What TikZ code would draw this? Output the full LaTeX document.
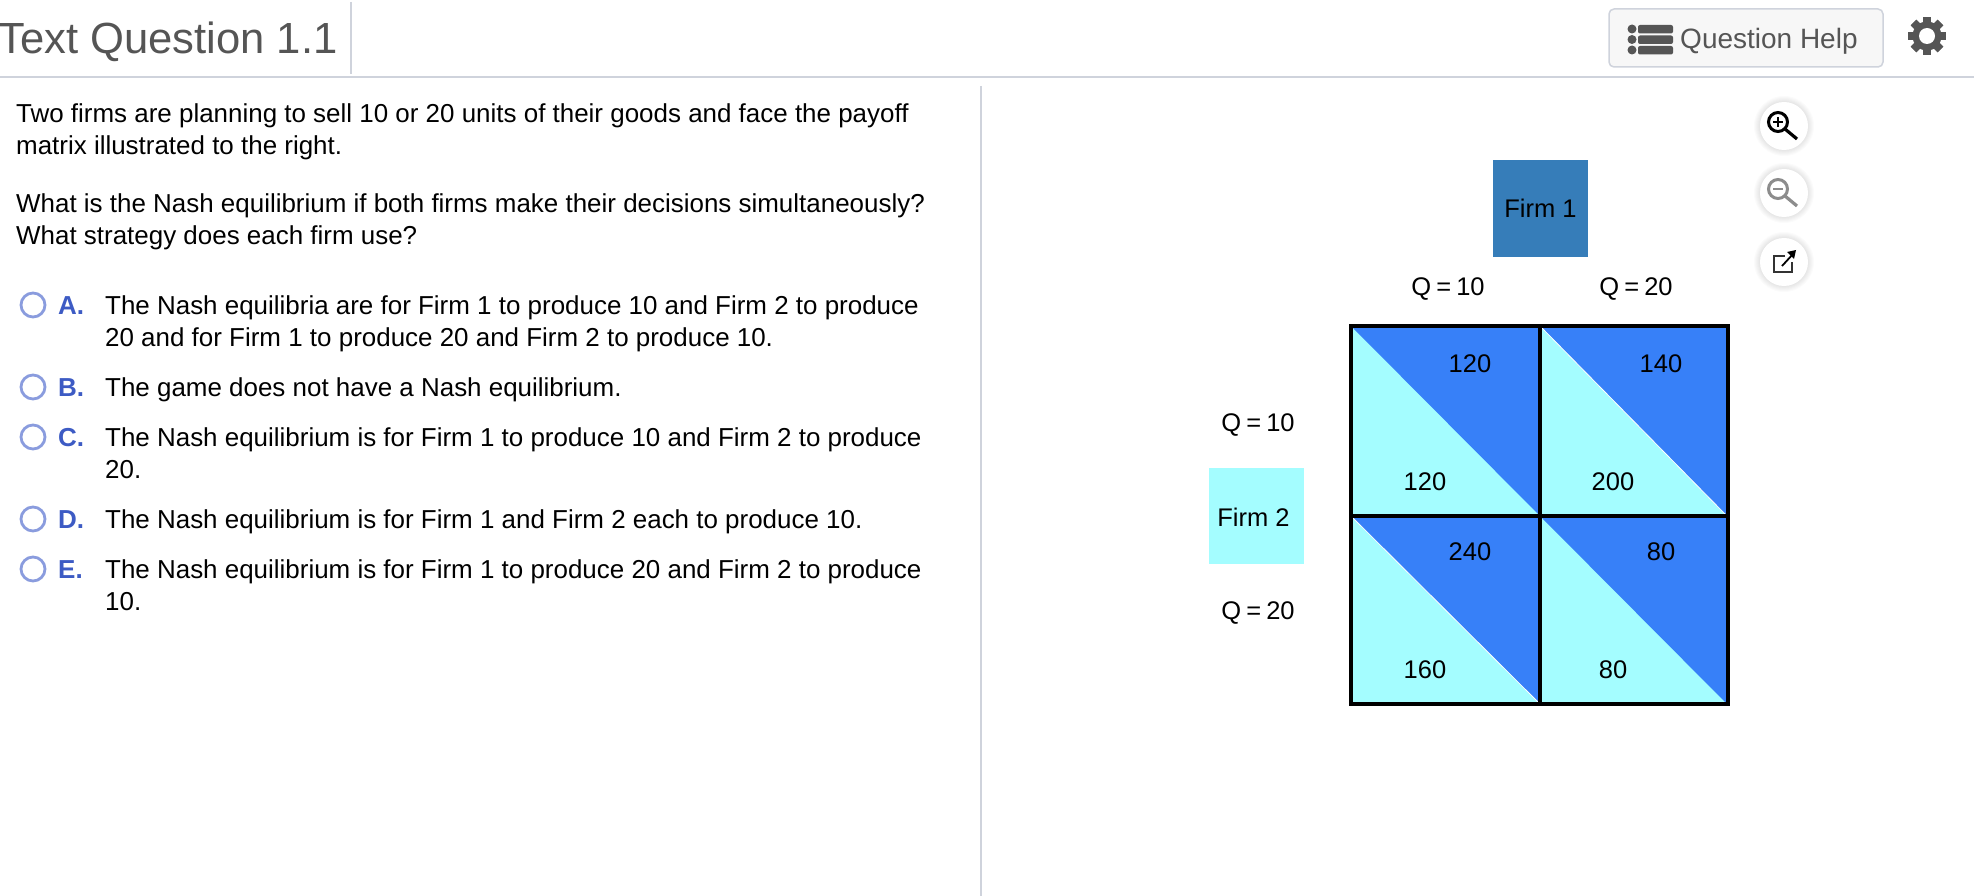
\documentclass[tikz,border=0pt]{standalone}
\usepackage{fontspec}
\setmainfont{Liberation Sans}
\usepackage{xcolor}
\definecolor{firmdark}{HTML}{3780F8}
\definecolor{firmlight}{HTML}{A4FDFF}
\definecolor{firmbox}{HTML}{367DB9}
\definecolor{rulegray}{HTML}{CFD3DC}
\definecolor{headgray}{HTML}{555555}
\definecolor{choiceblue}{HTML}{3D5BC4}
\definecolor{radioblue}{HTML}{8A9CDE}
\tikzset{
  line/.style={anchor=base west, inner sep=0pt, font=\fontsize{25.95}{30}\selectfont},
  letter/.style={anchor=base west, inner sep=0pt, text=choiceblue, font=\fontsize{26}{30}\selectfont\bfseries},
  radio/.style={draw=radioblue, line width=2.8pt, fill=white},
  label/.style={inner sep=0pt, font=\fontsize{25.5}{30}\selectfont},
  iconbtn/.style={fill=white},
}
\newcommand{\qval}[1]{Q\hspace{0.2em}=\hspace{0.2em}#1}
\begin{document}
\begin{tikzpicture}[x=1pt,y=-1pt]
\useasboundingbox (0,0) rectangle (1974,896);
\fill[white] (0,0) rectangle (1974,896);

% header
\node[anchor=base west, inner sep=0pt, text=headgray, font=\fontsize{43.6}{50}\selectfont] (title) at (-2,54) {Text Question 1.1};
\draw[rulegray, line width=1.5pt] (351,2)--(351,74);
\draw[rulegray, line width=1.5pt] (0,77)--(1974,77);
\draw[rulegray, line width=1.5pt] (981,86)--(981,896);

\draw[rulegray, line width=1.5pt, fill=black!3, rounded corners=5pt] (1609,9) rectangle (1883,67);
\fill[headgray] (1632,29) circle (4.5);
\fill[headgray] (1632,39.5) circle (4.5);
\fill[headgray] (1632,50) circle (4.5);
\fill[headgray, rounded corners=2pt] (1638,25) rectangle (1673,33.5);
\fill[headgray, rounded corners=2pt] (1638,35.5) rectangle (1673,44);
\fill[headgray, rounded corners=2pt] (1638,46) rectangle (1673,54.5);
\node[anchor=base west, inner sep=0pt, text=headgray, font=\fontsize{28}{32}\selectfont] (help) at (1680,49) {Question Help};

% gear
\foreach \a in {0,45,...,315} {
  \fill[headgray, rotate around={\a:(1927,36)}] (1923,17) rectangle (1931,55);
}
\fill[headgray] (1927,36) circle (14.5);
\fill[white] (1927,36) circle (8);

% zoom buttons
\foreach \y in {126,193,262} {
  \foreach \r in {30,29,...,25} {
    \fill[black, opacity=0.015] (1784,\y) circle (\r);
  }
  \fill[iconbtn] (1784,\y) circle (24);
}
\draw[line width=3pt] (1778,122) circle (9.5);
\draw[line width=3.2pt] (1785,129)--(1797,139);
\draw[line width=1.2pt] (1773,122)--(1783,122) (1778,117)--(1778,127);
\draw[black!45, line width=3pt] (1778,189) circle (9.5);
\draw[black!45, line width=3.2pt] (1785,196)--(1797,206);
\draw[black!45, line width=1.2pt] (1773,189)--(1783,189);
\draw[black!80, line width=1.5pt] (1785,256)--(1774,256)--(1774,272)--(1792,272)--(1792,262);
\draw[line width=1.8pt] (1782,266)--(1793,254);
\fill (1796,250)--(1787,252)--(1794,259)--cycle;

% question
\node[line] (q1) at (16,122.5) {Two firms are planning to sell 10 or 20 units of their goods and face the payoff};
\node[line] (q2) at (16,154.5) {matrix illustrated to the right.};
\node[line] (q3) at (16,212.5) {What is the Nash equilibrium if both firms make their decisions simultaneously?};
\node[line] (q4) at (16,244.5) {What strategy does each firm use?};

% choices
\draw[radio] (33,305) circle (12);
\node[letter] (la) at (58,314) {A.};
\node[line] (a1) at (105,314) {The Nash equilibria are for Firm 1 to produce 10 and Firm 2 to produce};
\node[line] (a2) at (105,346) {20 and for Firm 1 to produce 20 and Firm 2 to produce 10.};

\draw[radio] (33,387) circle (12);
\node[letter] (lb) at (58,396) {B.};
\node[line] (b1) at (105,396) {The game does not have a Nash equilibrium.};

\draw[radio] (33,437) circle (12);
\node[letter] (lc) at (58,446) {C.};
\node[line] (c1) at (105,446) {The Nash equilibrium is for Firm 1 to produce 10 and Firm 2 to produce};
\node[line] (c2) at (105,478) {20.};

\draw[radio] (33,519) circle (12);
\node[letter] (ld) at (58,528) {D.};
\node[line] (d1) at (105,528) {The Nash equilibrium is for Firm 1 and Firm 2 each to produce 10.};

\draw[radio] (33,569) circle (12);
\node[letter] (le) at (58,578) {E.};
\node[line] (e1) at (105,578) {The Nash equilibrium is for Firm 1 to produce 20 and Firm 2 to produce};
\node[line] (e2) at (105,610) {10.};

% firms
\fill[firmbox] (1493,160) rectangle (1588,257);
\node[label] (firm1) at (1540.5,208.5) {Firm 1};
\fill[firmlight] (1209,468) rectangle (1304,564);
\node[label] (firm2) at (1253.5,517) {Firm 2};

\node[label] (top10) at (1448,289.5) {\qval{10}};
\node[label] (top20) at (1636,289.5) {\qval{20}};
\node[label] (left10) at (1258,425.5) {\qval{10}};
\node[label] (left20) at (1258,613.5) {\qval{20}};

% payoff matrix
\fill[firmlight] (1351,326) rectangle (1727,704);
\fill[firmdark] (1351,326)--(1540,326)--(1540,516)--cycle;
\fill[firmdark] (1540,326)--(1727,326)--(1727,516)--cycle;
\fill[firmdark] (1351,516)--(1540,516)--(1540,704)--cycle;
\fill[firmdark] (1540,516)--(1727,516)--(1727,704)--cycle;
\draw[white, line width=0.8pt] (1540,326)--(1727,516);
\draw[white, line width=0.8pt] (1351,516)--(1540,704);
\draw[line width=4.4pt] (1351,326) rectangle (1728,704);
\draw[line width=4.4pt] (1540,326)--(1540,704);
\draw[line width=4.4pt] (1351,516)--(1728,516);

\node[label] (p11a) at (1470,363.5) {120};
\node[label] (p11b) at (1425,481.5) {120};
\node[label] (p12a) at (1661,363.5) {140};
\node[label] (p12b) at (1613,481.5) {200};
\node[label] (p21a) at (1470,551.5) {240};
\node[label] (p21b) at (1425,669.5) {160};
\node[label] (p22a) at (1661,551.5) {80};
\node[label] (p22b) at (1613,669.5) {80};
\end{tikzpicture}
\end{document}
